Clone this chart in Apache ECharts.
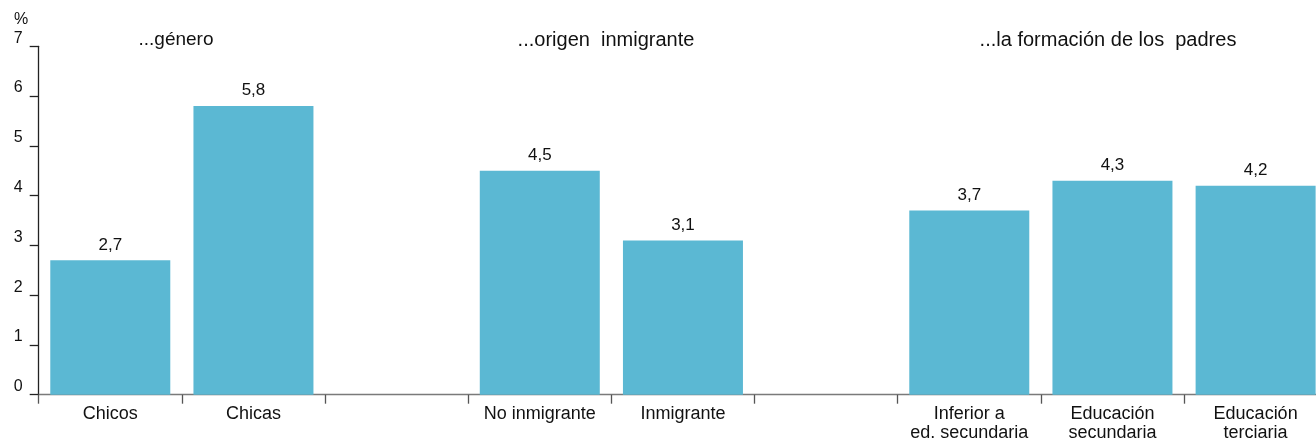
<!DOCTYPE html>
<html>
<head>
<meta charset="utf-8">
<script src="https://cdn.jsdelivr.net/npm/echarts@6/dist/echarts.min.js"></script>
<style>
html,body{margin:0;padding:0;background:#fff;}
#chart{width:1316px;height:441px;}
</style>
</head>
<body>
<div id="chart"></div>
<script>
const categories = ['Chicos', 'Chicas', '', 'No inmigrante', 'Inmigrante', '', 'Inferior a\ned. secundaria', 'Educación\nsecundaria', 'Educación\nterciaria'];
const values = [2.7, 5.8, null, 4.5, 3.1, null, 3.7, 4.3, 4.2];
const groupTitles = ['...género', '...origen  inmigrante', '...la formación de los  padres'];
const yTicks = [0, 1, 2, 3, 4, 5, 6, 7];

const FONT = '"Liberation Sans", Arial, sans-serif';
const chart = echarts.init(document.getElementById('chart'), null, {renderer: 'canvas'});

const titlePos = [[176, 40, 19], [606, 40, 20], [1108, 40, 20]];

chart.setOption({
  animation: false,
  backgroundColor: '#ffffff',
  grid: {left: 38.7, top: 46.3, bottom: 46.3, width: 1288.5, containLabel: false, outerBoundsMode: 'none'},
  graphic: groupTitles.map((t, i) => ({
    type: 'text', x: titlePos[i][0], y: titlePos[i][1],
    style: {text: t, fill: '#111', font: titlePos[i][2] + 'px ' + FONT, align: 'center', verticalAlign: 'middle'}
  })).concat([{
    type: 'text', x: 21, y: 20,
    style: {text: '%', fill: '#111', font: '16px ' + FONT, align: 'center', verticalAlign: 'middle'}
  }]),
  xAxis: {
    type: 'category',
    data: categories,
    boundaryGap: true,
    axisLine: {show: true, lineStyle: {color: '#7a7a7a', width: 1.3}},
    axisTick: {show: true, length: 9, alignWithLabel: false, interval: 0, lineStyle: {color: '#555', width: 1.3}},
    axisLabel: {interval: 0, margin: 10, color: '#111', fontSize: 18, fontFamily: FONT, lineHeight: 19},
    splitLine: {show: false}
  },
  yAxis: {
    type: 'value',
    min: yTicks[0], max: yTicks[yTicks.length - 1], interval: 1,
    axisLine: {show: true, lineStyle: {color: '#222', width: 1.3}},
    axisTick: {show: true, length: 9, lineStyle: {color: '#222', width: 1.3}},
    axisLabel: {margin: 16, color: '#111', fontSize: 16, fontFamily: FONT, verticalAlign: 'bottom'},
    splitLine: {show: false}
  },
  series: [{
    type: 'bar',
    data: values,
    barWidth: 120,
    itemStyle: {color: '#5BB8D3'},
    label: {
      show: true, position: 'top', distance: 7, color: '#111', fontSize: 17, fontFamily: FONT,
      formatter: p => String(p.value).replace('.', ',')
    }
  }]
});
</script>
</body>
</html>
